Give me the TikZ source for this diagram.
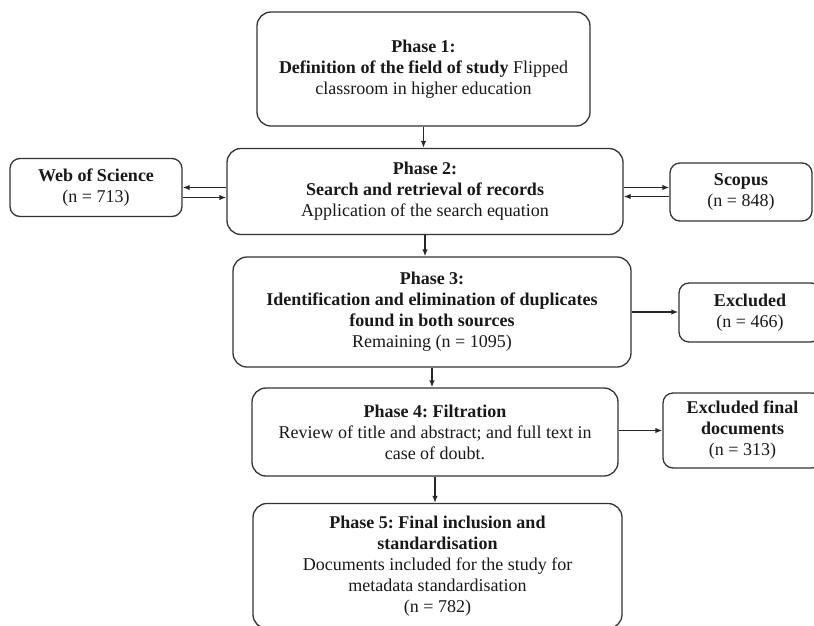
\documentclass[tikz,border=0pt]{standalone}
\usepackage{fontspec}
\setmainfont{Liberation Serif}
\usetikzlibrary{arrows.meta}
\frenchspacing
\begin{document}
\begin{tikzpicture}[x=1pt,y=-1pt,
  box/.style={draw=black!80, line width=1.3pt, rounded corners=14pt, fill=white,
    align=center, inner sep=0pt, text=black!90,
    font=\fontsize{18}{21}\selectfont},
  sbox/.style={box, rounded corners=10pt},
  arr/.style={line width=1.4pt, draw=black!85, -{Latex[length=7pt,width=5.5pt]}}]
\useasboundingbox (0,0) rectangle (814,625);
\clip (0,0) rectangle (814,625);
\fill[white] (0,0) rectangle (814,625);

\node[box, minimum width=333pt, minimum height=114pt] (p1) at (423.5,69)
  {\textbf{Phase 1:}\\ \textbf{Definition of the field of study} Flipped\\ classroom in higher education};
\node[box, minimum width=396pt, minimum height=86pt] (p2) at (425,191.5)
  {\textbf{Phase 2:}\\ \textbf{Search and retrieval of records}\\ Application of the search equation};
\node[box, minimum width=398pt, minimum height=110pt] (p3) at (432,312)
  {\textbf{Phase 3:}\\ \textbf{Identification and elimination of duplicates}\\ \textbf{found in both sources}\\ Remaining (n = 1095)};
\node[box, minimum width=366pt, minimum height=88pt] (p4) at (435,432)
  {\textbf{Phase 4: Filtration}\\ Review of title and abstract; and full text in\\ case of doubt.};
\node[box, minimum width=369pt, minimum height=125pt] (p5) at (437.5,566)
  {\textbf{Phase 5: Final inclusion and}\\ \textbf{standardisation}\\ Documents included for the study for\\ metadata standardisation\\ (n = 782)};

\node[sbox, minimum width=172pt, minimum height=58pt] (wos) at (96,187.5)
  {\textbf{Web of Science}\\ (n = 713)};
\node[sbox, minimum width=142pt, minimum height=58pt] (scop) at (741,192)
  {\textbf{Scopus}\\ (n = 848)};
\node[sbox, minimum width=142pt, minimum height=59pt] (exc) at (750,312.5)
  {\textbf{Excluded}\\ (n = 466)};
\node[sbox, minimum width=159pt, minimum height=75pt] (excf) at (742.5,430.5)
  {\textbf{Excluded final}\\ \textbf{documents}\\ (n = 313)};

\draw[arr] (p1.south) -- (p1.south |- p2.north);
\draw[arr] (p2.south) -- (p2.south |- p3.north);
\draw[arr] (p3.south) -- (p3.south |- p4.north);
\draw[arr] (p4.south) -- (p4.south |- p5.north);

\draw[arr] (p2.west |- wos.east) -- (wos.east);
\draw[arr] ([yshift=-10pt]wos.east) -- ([yshift=-10pt]wos.east -| p2.west);
\draw[arr] ([yshift=4.5pt]scop.west -| p2.east) -- ([yshift=4.5pt]scop.west);
\draw[arr] ([yshift=-4.5pt]scop.west) -- ([yshift=-4.5pt]scop.west -| p2.east);

\draw[arr] (p3.east) -- (p3.east -| exc.west);
\draw[arr] (p4.east |- excf.west) -- (excf.west);
\end{tikzpicture}
\end{document}
